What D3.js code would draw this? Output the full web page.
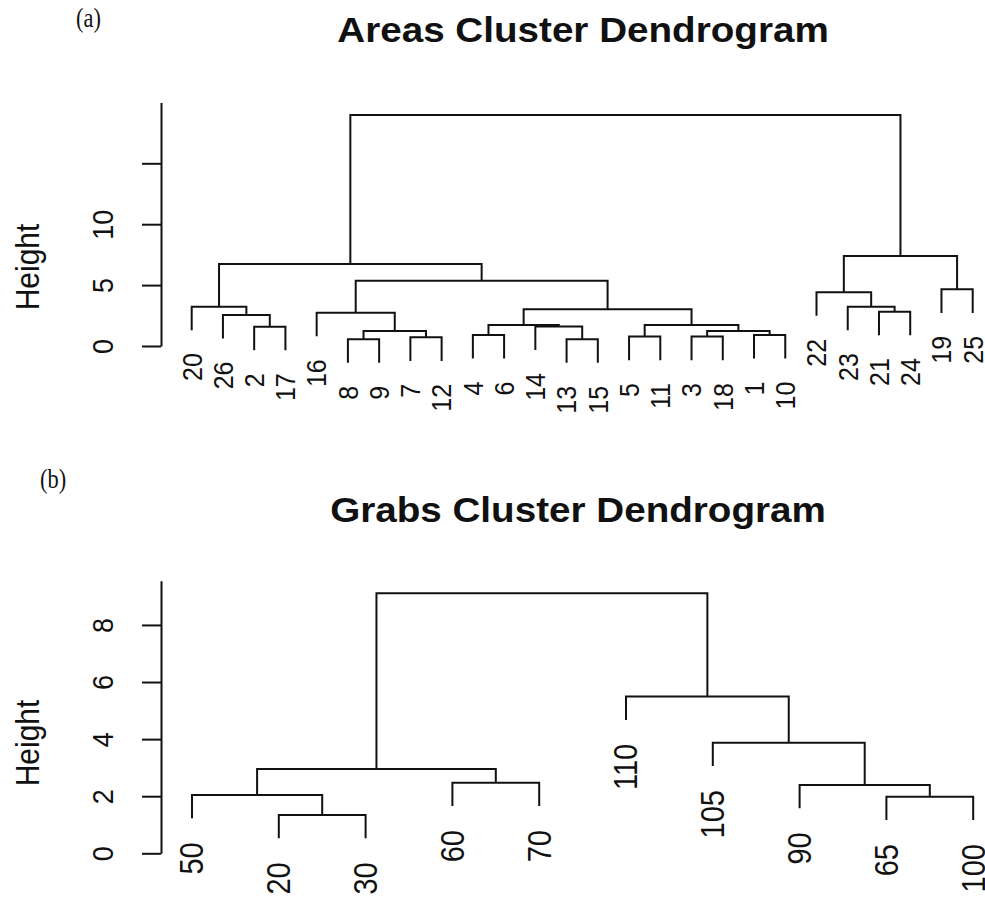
<!DOCTYPE html>
<html>
<head>
<meta charset="utf-8">
<script src="https://cdn.jsdelivr.net/npm/d3@7"></script>
<style>
  body { margin: 0; background: #fff; }
  svg { display: block; }
</style>
</head>
<body>
<svg id="chart" width="985" height="902"></svg>
<script>
// ---- Areas dendrogram (hclust-style merge list) ----
// a string is a leaf label, a number refers to an earlier merge step (1-based)
const areaOrder = ["20","26","2","17","16","8","9","7","12","4","6","14","13","15",
                   "5","11","3","18","1","10","22","23","21","24","19","25"];
const areaMerge = [
  ["8","9"], ["13","15"], ["7","12"], ["5","11"], ["3","18"], ["4","6"], ["1","10"],
  [1,3], [5,7], ["2","17"], ["14",2], [6,11], [4,9], ["26",10], ["16",8],
  ["21","24"], [12,13], ["20",14], ["23",16], ["22",19], ["19","25"],
  [15,17], [18,22], [20,21], [23,24]
];
const areaHeight = [0.55,0.55,0.71,0.77,0.77,0.90,0.90,1.23,1.23,1.58,1.60,1.72,1.72,
                    2.55,2.73,2.82,3.01,3.23,3.23,4.41,4.65,5.36,6.73,7.39,18.97];
const areaTicks = [0,5,10,15];
const areaTickLabels = ["0","5","10",""];

// ---- Grabs dendrogram ----
const grabOrder = ["50","20","30","60","70","110","105","90","65","100"];
const grabMerge = [
  ["20","30"], ["65","100"], ["50",1], ["90",2], ["60","70"],
  [3,5], ["105",4], ["110",7], [6,8]
];
const grabHeight = [1.34,1.98,2.04,2.39,2.47,2.95,3.87,5.49,9.11];
const grabTicks = [0,2,4,6,8];
const grabTickLabels = ["0","2","4","6","8"];

const svg = d3.select("#chart");
const INK = "#111";
const SX = 1.12;               // horizontal glyph stretch of the printed figure
const FONT = "'Liberation Sans', Arial, Helvetica, sans-serif";

function buildTree(merge, heights) {
  const steps = [];
  merge.forEach((pair, i) => {
    const children = pair.map(p => typeof p === "string" ? { name: p } : steps[p - 1]);
    steps.push({ height: heights[i], children });
  });
  return d3.hierarchy(steps[steps.length - 1]);
}

// vertical text, reading bottom-to-top, anchored at (x, y)
function vText(g, x, y, str, size, anchor) {
  return g.append("text")
    .attr("transform", `translate(${x},${y}) scale(${SX},1) rotate(-90)`)
    .attr("text-anchor", anchor)
    .attr("dy", "0.35em")
    .attr("font-family", FONT)
    .attr("font-size", size)
    .attr("fill", INK)
    .text(str);
}

function drawDendrogram(cfg) {
  const g = svg.append("g");
  const root = buildTree(cfg.merge, cfg.heights);
  const x = d3.scalePoint().domain(cfg.order).range(cfg.xRange);
  const y = d3.scaleLinear().domain([0, cfg.axisMax]).range(cfg.yRange);
  const hang = 0.105 * (d3.max(cfg.heights) - d3.min(cfg.heights));

  root.eachAfter(n => {
    if (n.children) n.px = d3.mean(n.children, c => c.px);
    else n.px = x(n.data.name);
  });
  root.each(n => {
    n.py = n.children ? y(n.data.height) : y(n.parent.data.height - hang);
  });

  // U-shaped links
  g.append("g").selectAll("path")
    .data(root.descendants().filter(n => n.children))
    .join("path")
    .attr("fill", "none")
    .attr("stroke", INK)
    .attr("stroke-width", 2)
    .attr("d", n => {
      const [a, b] = n.children;
      return `M${a.px},${a.py}V${n.py}H${b.px}V${b.py}`;
    });

  // leaf labels
  root.leaves().forEach(l => {
    vText(g, l.px, l.py + cfg.labelGap, l.data.name, cfg.labelSize, "end");
  });

  // y axis
  const axis = d3.axisLeft(y)
    .tickValues(cfg.ticks)
    .tickSize(19)
    .tickSizeOuter(0)
    .tickFormat((d, i) => cfg.tickLabels[i]);
  const ag = g.append("g").attr("transform", `translate(${cfg.axisX},0)`).call(axis);
  ag.select(".domain").attr("stroke", INK).attr("stroke-width", 2);
  ag.selectAll(".tick line").attr("stroke", INK).attr("stroke-width", 2);
  ag.selectAll(".tick text")
    .attr("x", null).attr("dy", "0.35em")
    .attr("y", -cfg.tickLabelOffset / SX)
    .attr("transform", `scale(${SX},1) rotate(-90)`)
    .attr("text-anchor", "middle")
    .attr("font-family", FONT)
    .attr("font-size", cfg.tickSize)
    .attr("fill", INK);

  // axis title
  vText(g, cfg.ylabX, cfg.ylabY, "Height", cfg.ylabSize, "middle");

  // chart title
  g.append("text")
    .attr("transform", `translate(${cfg.titleX},${cfg.titleY}) scale(${SX},1)`)
    .attr("text-anchor", "middle")
    .attr("font-family", FONT)
    .attr("font-weight", "bold")
    .attr("font-size", cfg.titleSize)
    .attr("fill", INK)
    .text(cfg.title);

  // panel letter
  g.append("text")
    .attr("transform", `translate(${cfg.tagX},${cfg.tagY}) scale(0.8,1)`)
    .attr("font-family", "'Liberation Serif', 'Times New Roman', serif")
    .attr("font-size", 28)
    .attr("fill", INK)
    .text(cfg.tag);
}

drawDendrogram({
  order: areaOrder, merge: areaMerge, heights: areaHeight,
  ticks: areaTicks, tickLabels: areaTickLabels,
  xRange: [191.7, 972.7], yRange: [346, 102.4], axisMax: 20, axisX: 161,
  labelGap: 23, labelSize: 25, tickSize: 27, tickLabelOffset: 59,
  ylabX: 27, ylabY: 267, ylabSize: 30,
  title: "Areas Cluster Dendrogram", titleX: 583, titleY: 42, titleSize: 34.5,
  tag: "(a)", tagX: 76, tagY: 27
});

drawDendrogram({
  order: grabOrder, merge: grabMerge, heights: grabHeight,
  ticks: grabTicks, tickLabels: grabTickLabels,
  xRange: [192, 973.2], yRange: [853.3, 580.7], axisMax: 9.55, axisX: 161,
  labelGap: 24, labelSize: 29, tickSize: 27, tickLabelOffset: 59,
  ylabX: 27, ylabY: 743, ylabSize: 30,
  title: "Grabs Cluster Dendrogram", titleX: 578, titleY: 522, titleSize: 34.5,
  tag: "(b)", tagX: 40, tagY: 488
});
</script>
</body>
</html>
